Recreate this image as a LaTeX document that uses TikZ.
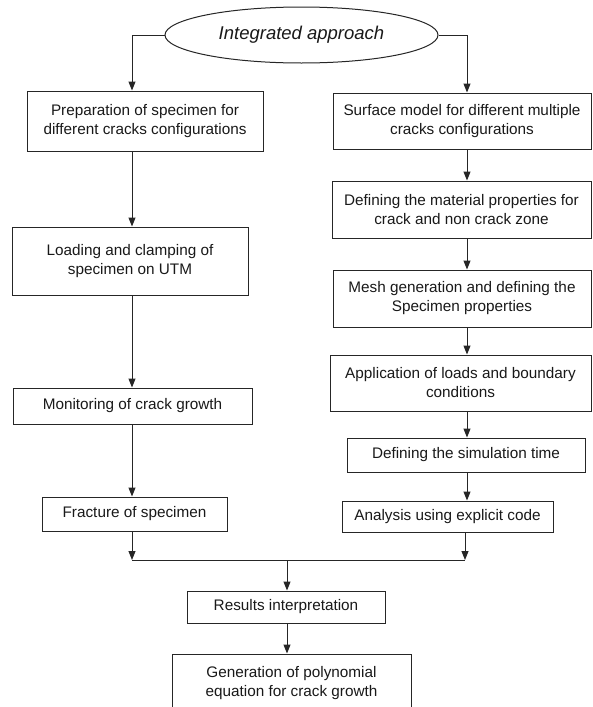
\documentclass[tikz,border=0pt]{standalone}
\usepackage{fontspec}
\setmainfont{Liberation Sans}
\usetikzlibrary{arrows.meta,shapes.geometric}
\begin{document}
\begin{tikzpicture}[x=1pt,y=-1pt,
  box/.style={draw=black!85, line width=1pt, rectangle, align=center, inner sep=0pt, text=black!90, font=\fontsize{15.3}{19}\selectfont},
  oval/.style={draw=black!85, line width=1pt, ellipse, inner sep=0pt, text=black!90, font=\fontsize{18.5}{22}\selectfont\itshape},
  arr/.style={draw=black!85, line width=1pt, -{Triangle[width=7pt,length=9pt]}},
  ln/.style={draw=black!85, line width=1pt}]
\useasboundingbox (0,0) rectangle (593,707);
\clip (0,0) rectangle (593,707);
\fill[white] (0,0) rectangle (593,707);

\coordinate (colL) at (132,0);
\coordinate (colR) at (467,0);
\coordinate (colM) at (287,0);

\node[oval, minimum width=273pt, minimum height=56pt] (top) at (301.5,35) {Integrated approach};

\node[box, minimum width=236pt, minimum height=60pt] (L1) at (145,121) {Preparation of specimen for\\different cracks configurations};
\node[box, minimum width=236pt, minimum height=68pt] (L2) at (130,261) {Loading and clamping of\\specimen on UTM};
\node[box, minimum width=239pt, minimum height=36pt] (L3) at (132.5,406) {Monitoring of crack growth};
\node[box, minimum width=185pt, minimum height=34pt] (L4) at (134.5,514) {Fracture of specimen};

\node[box, minimum width=258pt, minimum height=56pt] (R1) at (462,121) {Surface model for different multiple\\cracks configurations};
\node[box, minimum width=259pt, minimum height=57pt] (R2) at (461.5,209.5) {Defining the material properties for\\crack and non crack zone};
\node[box, minimum width=258pt, minimum height=57pt] (R3) at (462,298.5) {Mesh generation and defining the\\Specimen properties};
\node[box, minimum width=261pt, minimum height=56pt] (R4) at (460.5,383) {Application of loads and boundary\\conditions};
\node[box, minimum width=238pt, minimum height=34pt] (R5) at (466,455) {Defining the simulation time};
\node[box, minimum width=211pt, minimum height=31pt] (R6) at (447.5,516.5) {Analysis using explicit code};

\node[box, minimum width=198pt, minimum height=32pt] (Res) at (286,607) {Results interpretation};
\node[box, minimum width=239pt, minimum height=58pt] (Gen) at (291.5,683) {Generation of polynomial\\equation for crack growth};

\coordinate (JL) at (132,560);
\coordinate (JR) at (465,560);
\coordinate (JM) at (287,560);

% top branches
\draw[arr] (top.west) -| (L1.north -| colL);
\draw[arr] (top.east) -| (R1.north -| colR);

% left column
\draw[arr] (L1.south -| colL) -- (L2.north -| colL);
\draw[arr] (L2.south -| colL) -- (L3.north -| colL);
\draw[arr] (L3.south -| colL) -- (L4.north -| colL);
\draw[arr] (L4.south -| colL) -- (JL);

% right column
\draw[arr] (R1.south -| colR) -- (R2.north -| colR);
\draw[arr] (R2.south -| colR) -- (R3.north -| colR);
\draw[arr] (R3.south -| colR) -- (R4.north -| colR);
\draw[arr] (R4.south -| colR) -- (R5.north -| colR);
\draw[arr] (R5.south -| colR) -- (R6.north -| colR);
\draw[arr] (R6.south -| JR) -- (JR);

% join
\draw[ln] (JL) -- (JR);
\draw[arr] (JM) -- (Res.north -| colM);
\draw[arr] (Res.south -| colM) -- (Gen.north -| colM);
\end{tikzpicture}
\end{document}
